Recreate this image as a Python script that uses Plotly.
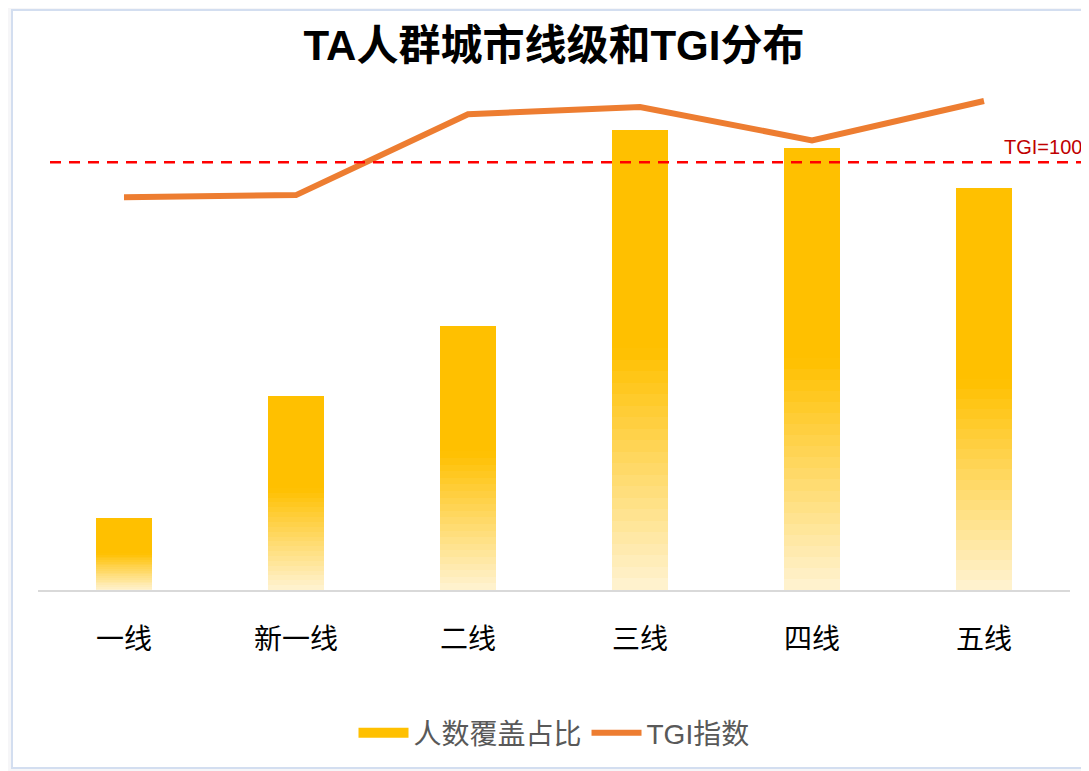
import plotly.graph_objects as go

categories = ["一线", "新一线", "二线", "三线", "四线", "五线"]
share = [3.9, 10.6, 14.4, 25.1, 24.1, 21.9]          # 人数覆盖占比 (%)
tgi = [91.8, 92.3, 111.2, 112.9, 105.1, 114.3]        # TGI指数
tgi_ref = 100

FONT = "Liberation Sans, Noto Sans CJK SC, sans-serif"
TOP = (255, 192, 0)
BOTTOM = (255, 243, 210)
N = 40

# page offset (browser body margin)
OX, OY = 8, 8
W, H = 1089 - OX, 771 - OY
PL, PR, PT, PB = 38, 1070, 80, 590   # plot area in screenshot pixels

def seg_color(k):
    t = (k + 0.5) / N
    f = 1 - t
    s = 0.0 if f <= 0.48 else (f - 0.48) / 0.52
    c = [round(TOP[i] + s * (BOTTOM[i] - TOP[i])) for i in range(3)]
    return f"rgb({c[0]},{c[1]},{c[2]})"

def px_x(p):
    return (p - PL) / (PR - PL)

def px_y(p):
    return (PB - p) / (PB - PT)

fig = go.Figure()
fig.add_trace(go.Scatter(x=[categories[0]], y=[None], mode="lines", name="人数覆盖占比",
                         line=dict(color="#FFC000", width=10), yaxis="y"))
for k in range(N):
    fig.add_trace(go.Bar(
        x=categories, y=[v / N for v in share],
        marker=dict(color=seg_color(k), line=dict(width=0)),
        width=0.32, showlegend=False, hoverinfo="skip", yaxis="y",
    ))
fig.add_trace(go.Scatter(x=categories, y=tgi, mode="lines", name="TGI指数",
                         line=dict(color="#ED7D31", width=6), yaxis="y2"))

fig.update_layout(
    width=W, height=H,
    barmode="stack", bargap=0,
    margin=dict(l=PL - OX, r=1089 - PR, t=PT - OY, b=771 - PB),
    paper_bgcolor="#F6F6F8", plot_bgcolor="rgba(0,0,0,0)",
    font=dict(family=FONT),
    title=dict(text="<b>TA人群城市线级和TGI分布</b>", x=0.5, xref="paper",
               y=1 - (45 - OY) / H, yref="container", xanchor="center", yanchor="middle",
               font=dict(size=42, color="#000000", family=FONT)),
    xaxis=dict(type="category", categoryorder="array", categoryarray=categories,
               showline=True, linecolor="#D9D9D9", linewidth=2, showgrid=False,
               ticks="outside", ticklen=23, tickcolor="rgba(0,0,0,0)",
               tickfont=dict(size=28, color="#000000", family=FONT), zeroline=False),
    yaxis=dict(visible=False, range=[0, 27.8], showgrid=False, zeroline=False),
    yaxis2=dict(visible=False, range=[0, 119.2], overlaying="y", side="right",
                showgrid=False, zeroline=False),
    legend=dict(orientation="h", x=0.5, xanchor="center", y=px_y(733),
                yanchor="middle", traceorder="normal",
                font=dict(size=28, color="#595959", family=FONT),
                itemwidth=50, bgcolor="rgba(0,0,0,0)"),
    shapes=[
        dict(type="rect", xref="paper", yref="paper",
             x0=px_x(12), x1=px_x(1100), y0=px_y(768), y1=px_y(10),
             fillcolor="#FFFFFF", line=dict(color="#D3DEF0", width=2), layer="below"),
        dict(type="line", xref="paper", yref="y2", x0=px_x(50), x1=px_x(1089),
             y0=tgi_ref, y1=tgi_ref, line=dict(color="#FF0000", width=2.5, dash="11px,8px")),
    ],
    annotations=[
        dict(text=f"TGI={tgi_ref}", xref="paper", yref="y2", x=px_x(1084), y=tgi_ref,
             xanchor="right", yanchor="bottom", yshift=2, showarrow=False,
             font=dict(size=20, color="#C00000", family=FONT)),
    ],
)

fig.write_html("out.html")
